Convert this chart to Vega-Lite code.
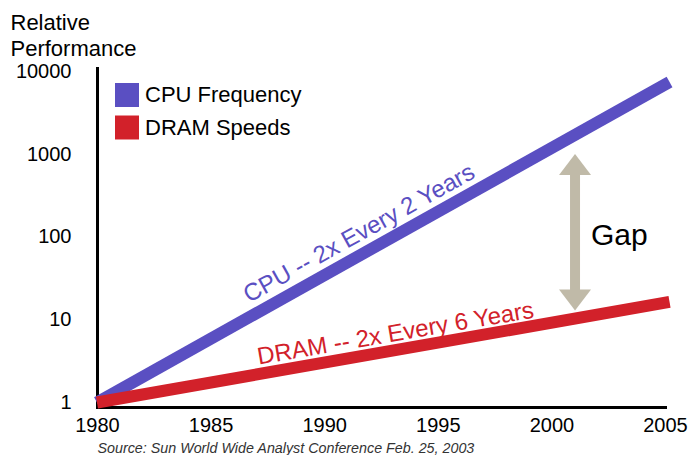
{
  "$schema": "https://vega.github.io/schema/vega-lite/v6.json",
  "width": 568,
  "height": 339,
  "autosize": {"type": "none"},
  "padding": {"left": 97, "top": 68, "right": 30, "bottom": 48},
  "background": "white",
  "config": {
    "view": {"stroke": null},
    "font": "Liberation Sans",
    "axis": {"grid": false, "ticks": false, "domainColor": "black", "domainWidth": 3, "domainCap": "square", "labelColor": "black", "labelFont": "Liberation Sans", "titleFont": "Liberation Sans"}
  },
  "datasets": {
    "lines": [
      {"year": 1980, "perf": 1, "series": "CPU Frequency"},
      {"year": 2005.2, "perf": 7470, "series": "CPU Frequency"},
      {"year": 1980, "perf": 1, "series": "DRAM Speeds"},
      {"year": 2005.2, "perf": 16.4, "series": "DRAM Speeds"}
    ],
    "notes": [
      {"year": 1991.7, "perf": 92, "text": "CPU -- 2x Every 2 Years", "series": "CPU Frequency"},
      {"year": 1993.2, "perf": 5.54, "text": "DRAM -- 2x Every 6 Years", "series": "DRAM Speeds"}
    ],
    "gap": [
      {"year": 2001.04, "perf": 752, "end": "top"},
      {"year": 2001.04, "perf": 17.3, "end": "bottom"}
    ],
    "gaplabel": [
      {"year": 2001.04, "perf": 80, "text": "Gap"}
    ]
  },
  "encoding": {
    "x": {
      "field": "year", "type": "quantitative",
      "scale": {"domain": [1980, 2005], "nice": false, "zero": false},
      "axis": {
        "values": [1980, 1985, 1990, 1995, 2000, 2005], "format": "d",
        "labelFontSize": 20, "labelPadding": 8, "labelFlush": false, "labelOverlap": false,
        "title": "Source: Sun World Wide Analyst Conference Feb. 25, 2003",
        "titleFontSize": 14.3, "titleFontStyle": "italic", "titleFontWeight": "normal",
        "titleAnchor": "start", "titleAlign": "left", "titleX": 0, "titleY": 45,
        "titleBaseline": "alphabetic", "titleColor": "#333333"
      }
    },
    "y": {
      "field": "perf", "type": "quantitative",
      "scale": {"type": "log", "domain": [0.882, 11022], "nice": false},
      "axis": {
        "values": [1, 10, 100, 1000, 10000], "format": "d",
        "labelFontSize": 20, "labelPadding": 26, "labelOverlap": false,
        "title": ["Relative", "Performance"],
        "titleFontSize": 22, "titleFontWeight": "normal", "titleAngle": 0,
        "titleAlign": "left", "titleBaseline": "alphabetic",
        "titleX": -87, "titleY": -39, "titleLineHeight": 26, "titleColor": "black"
      }
    }
  },
  "layer": [
    {
      "data": {"name": "gap"},
      "transform": [{"aggregate": [{"op": "min", "field": "perf", "as": "lo"}, {"op": "max", "field": "perf", "as": "hi"}], "groupby": ["year"]}],
      "mark": {"type": "rule", "color": "#c0baa8", "strokeWidth": 10},
      "encoding": {
        "y": {"field": "lo", "type": "quantitative", "title": ["Relative", "Performance"]},
        "y2": {"field": "hi"}
      }
    },
    {
      "data": {"name": "gap"},
      "mark": {"type": "point", "filled": true, "size": 1024, "opacity": 1, "color": "#c0baa8", "strokeWidth": 0},
      "encoding": {
        "shape": {
          "field": "end", "type": "nominal", "legend": null,
          "scale": {"domain": ["top", "bottom"], "range": ["M-1,0.656L1,0.656L0,-0.656Z", "M-1,-0.656L1,-0.656L0,0.656Z"]}
        }
      }
    },
    {
      "data": {"name": "gaplabel"},
      "mark": {"type": "text", "align": "left", "baseline": "alphabetic", "dx": 16, "fontSize": 30, "color": "black", "font": "Liberation Sans"},
      "encoding": {"text": {"field": "text"}}
    },
    {
      "data": {"name": "lines"},
      "mark": {"type": "line", "strokeWidth": 12, "strokeCap": "butt"},
      "encoding": {
        "color": {
          "field": "series", "type": "nominal",
          "scale": {"domain": ["CPU Frequency", "DRAM Speeds"], "range": ["#5a4fc2", "#d2212a"]},
          "legend": {
            "title": null, "orient": "none", "legendX": 18, "legendY": 15, "padding": 0,
            "symbolType": "square", "symbolSize": 576, "symbolStrokeWidth": 0,
            "labelFontSize": 22, "labelOffset": 6, "rowPadding": 8.5, "labelFont": "Liberation Sans", "labelColor": "black",
            "encode": {"symbols": {"update": {"fill": {"scale": "color", "field": "value"}, "fillOpacity": {"value": 1}, "opacity": {"value": 1}, "stroke": {"value": "transparent"}}}}
          }
        }
      }
    },
    {
      "data": {"name": "notes"},
      "transform": [{"filter": "datum.series === 'CPU Frequency'"}],
      "mark": {"type": "text", "align": "center", "baseline": "alphabetic", "angle": 331, "fontSize": 24, "color": "#5a4fc2", "font": "Liberation Sans"},
      "encoding": {"text": {"field": "text"}}
    },
    {
      "data": {"name": "notes"},
      "transform": [{"filter": "datum.series === 'DRAM Speeds'"}],
      "mark": {"type": "text", "align": "center", "baseline": "alphabetic", "angle": 350.3, "fontSize": 24, "color": "#d2212a", "font": "Liberation Sans"},
      "encoding": {"text": {"field": "text"}}
    }
  ]
}
